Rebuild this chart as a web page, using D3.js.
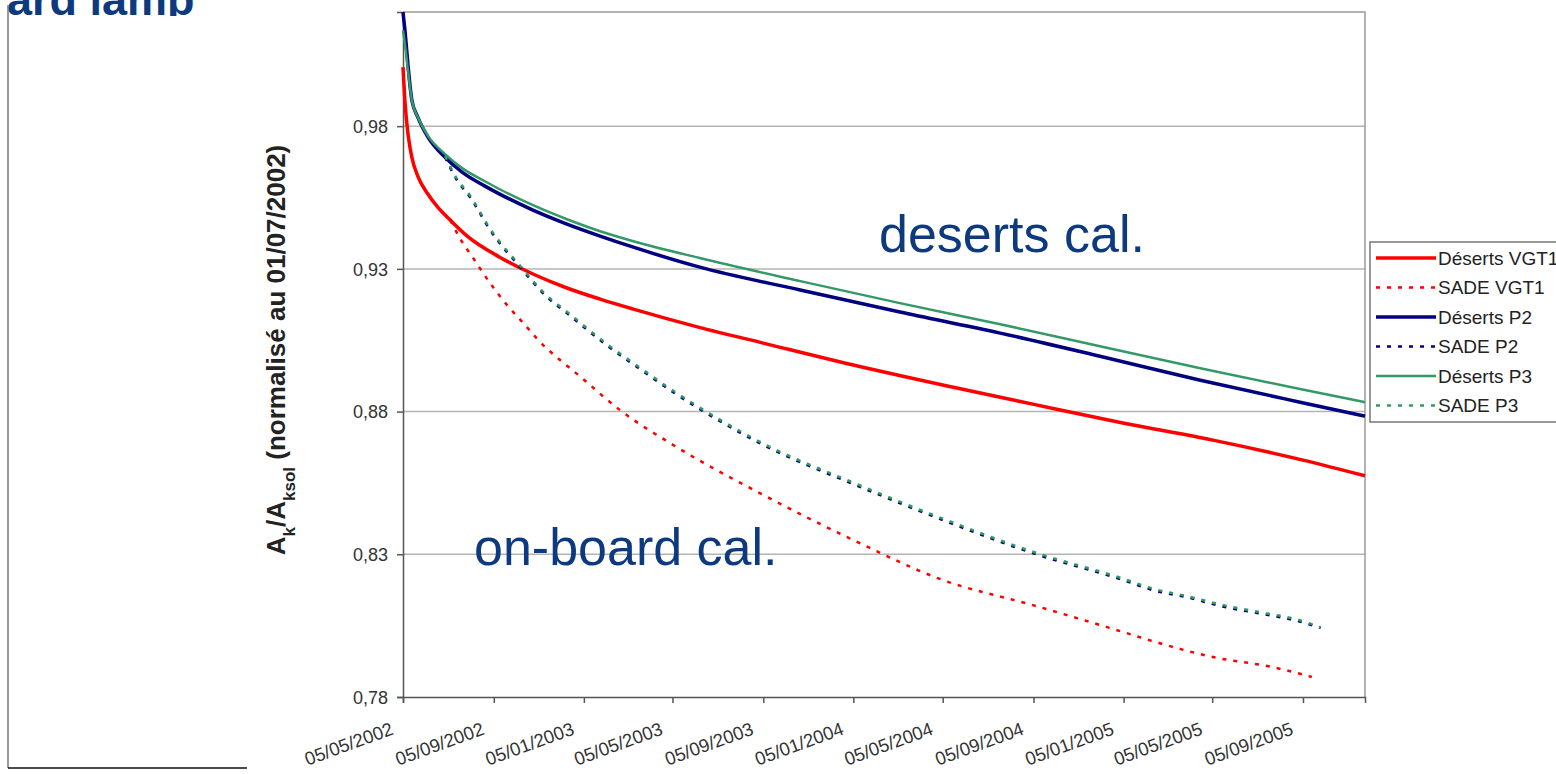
<!DOCTYPE html>
<html>
<head>
<meta charset="utf-8">
<script src="https://d3js.org/d3.v7.min.js"></script>
<style>
  body { margin: 0; background: #fff; }
  text { font-family: Arial, "Liberation Sans", sans-serif; }
</style>
</head>
<body>
<script>
// legend order
const seriesNames = ["Déserts VGT1", "SADE VGT1", "Déserts P2", "SADE P2", "Déserts P3", "SADE P3"];

const tickDates = ["2002-05-05", "2002-09-05", "2003-01-05", "2003-05-05", "2003-09-05", "2004-01-05",
                   "2004-05-05", "2004-09-05", "2005-01-05", "2005-05-05", "2005-09-05"];
const yTicks = [0.78, 0.83, 0.88, 0.93, 0.98];

// Déserts VGT1
const vgt1DesertDates = ["2002-05-05","2002-05-08","2002-05-12","2002-05-17","2002-05-25","2002-06-07","2002-06-21",
  "2002-07-08","2002-07-31","2002-09-13","2002-10-28","2002-12-13","2003-01-27","2003-03-13","2003-06-09","2003-09-05",
  "2004-01-05","2004-05-05","2004-09-04","2005-01-04","2005-05-06","2005-09-05","2005-11-28"];
const vgt1DesertVals = [1.0007,0.9874,0.9768,0.9691,0.9625,0.9565,0.9516,0.9471,0.9415,0.9341,0.9282,0.9233,
  0.9194,0.9159,0.9096,0.9040,0.8963,0.8893,0.8826,0.8760,0.8700,0.8630,0.8575];

// Déserts P2 / P3
const pDesertDates = ["2002-05-05","2002-05-08","2002-05-12","2002-05-17","2002-05-25","2002-06-08","2002-07-01",
  "2002-07-24","2002-08-24","2002-09-13","2002-10-28","2002-12-13","2003-01-27","2003-03-13","2003-06-11","2003-10-25",
  "2004-03-08","2004-07-22","2004-12-04","2005-04-19","2005-09-01","2005-11-28"];
const p2DesertVals = [1.0199,1.0126,1.0007,0.9891,0.9832,0.9761,0.9691,0.9639,0.9590,0.9562,0.9506,0.9457,
  0.9415,0.9376,0.9306,0.9226,0.9149,0.9075,0.8994,0.8910,0.8833,0.8784];
const p3DesertVals = [1.0136,1.0080,0.9990,0.9890,0.9832,0.9765,0.9702,0.9653,0.9607,0.9579,0.9523,0.9474,
  0.9432,0.9397,0.9338,0.9257,0.9180,0.9106,0.9029,0.8952,0.8879,0.8833];

// SADE VGT1
const vgt1SadeDates = ["2002-07-08","2002-07-21","2002-08-08","2002-08-31","2002-09-23","2002-10-15","2002-11-02",
  "2003-01-04","2003-02-23","2003-05-06","2003-09-05","2004-01-05","2004-05-05","2004-09-04","2005-01-04",
  "2005-02-17","2005-05-06","2005-07-25","2005-08-28","2005-09-17"];
const vgt1SadeVals = [0.9471,0.9408,0.9338,0.9250,0.9173,0.9110,0.9057,0.8914,0.8805,0.8683,0.8508,0.8350,
  0.8210,0.8122,0.8028,0.7993,0.7940,0.7905,0.7884,0.7870];

// SADE P2 / P3
const pSadeDates = ["2002-07-01","2002-07-17","2002-08-04","2002-08-31","2002-09-13","2002-10-06","2002-11-16",
  "2002-12-13","2003-02-05","2003-03-22","2003-05-06","2003-07-06","2003-09-05","2004-01-05","2004-05-05",
  "2004-09-04","2005-01-04","2005-02-13","2005-04-05","2005-05-11","2005-07-20","2005-08-23","2005-09-29"];
const p2SadeVals = [0.9691,0.9611,0.9551,0.9436,0.9390,0.9320,0.9201,0.9145,0.9032,0.8949,0.8868,0.8770,
  0.8683,0.8546,0.8420,0.8304,0.8210,0.8175,0.8147,0.8122,0.8087,0.8070,0.8042];
const p3SadeVals = [0.9695,0.9616,0.9556,0.9441,0.9395,0.9325,0.9206,0.9150,0.9037,0.8954,0.8873,0.8775,
  0.8688,0.8551,0.8425,0.8309,0.8215,0.8180,0.8151,0.8127,0.8092,0.8075,0.8044];

const parse = d3.timeParse("%Y-%m-%d");
const fmt = d3.timeFormat("%d/%m/%Y");

function zip(dates, vals) {
  return dates.map((d, i) => ({ date: parse(d), v: vals[i] }));
}

const series = [
  { name: seriesNames[0], data: zip(vgt1DesertDates, vgt1DesertVals), color: "#ff0000", w: 3.5, dash: null },
  { name: seriesNames[1], data: zip(vgt1SadeDates, vgt1SadeVals), color: "#ff0000", w: 2.5, dash: "4,7" },
  { name: seriesNames[2], data: zip(pDesertDates, p2DesertVals), color: "#000080", w: 3.5, dash: null },
  { name: seriesNames[3], data: zip(pSadeDates, p2SadeVals), color: "#000080", w: 2.5, dash: "4,7" },
  { name: seriesNames[4], data: zip(pDesertDates, p3DesertVals), color: "#339966", w: 2.5, dash: null },
  { name: seriesNames[5], data: zip(pSadeDates, p3SadeVals), color: "#339966", w: 2.5, dash: "4,7" }
];

const W = 1556, H = 774;
const plot = { left: 403, right: 1365, top: 12, bottom: 697 };

const svg = d3.select("body").append("svg")
  .attr("width", W).attr("height", H);

// cut-off slide title
svg.append("clipPath").attr("id", "titleClip")
  .append("rect").attr("x", 0).attr("y", 0).attr("width", 400).attr("height", 16);
svg.append("text")
  .attr("clip-path", "url(#titleClip)")
  .attr("x", 7).attr("y", 15)
  .style("font-size", "45px").style("font-weight", "bold")
  .attr("fill", "#0d3a7e")
  .text("ard lamp");

// left frame
svg.append("line").attr("x1", 8).attr("x2", 8).attr("y1", 5).attr("y2", 768)
  .attr("stroke", "#777").attr("stroke-width", 1.5);
svg.append("line").attr("x1", 8).attr("x2", 247).attr("y1", 768).attr("y2", 768)
  .attr("stroke", "#111").attr("stroke-width", 1.5);

// scales
const x = d3.scaleTime()
  .domain([parse("2002-05-05"), parse("2005-11-28")])
  .range([plot.left, plot.right]);
const y = d3.scaleLinear()
  .domain([0.78, 1.02])
  .range([plot.bottom, plot.top]);

// gridlines
svg.append("g").selectAll("line")
  .data(yTicks.slice(1))
  .join("line")
  .attr("x1", plot.left).attr("x2", plot.right)
  .attr("y1", d => y(d)).attr("y2", d => y(d))
  .attr("stroke", "#b4b4b4").attr("stroke-width", 1.5);

// plot frame (top + right)
svg.append("path")
  .attr("d", `M${plot.left},${plot.top}H${plot.right}V${plot.bottom}`)
  .attr("fill", "none").attr("stroke", "#9a9a9a").attr("stroke-width", 1.5);

// y axis
const yAxis = d3.axisLeft(y).tickValues(yTicks).tickSize(6).tickFormat(d => d3.format(".2f")(d).replace(".", ","));
const gy = svg.append("g").attr("transform", `translate(${plot.left},0)`).call(yAxis);
gy.select(".domain").attr("stroke", "#555").attr("stroke-width", 1.5);
gy.selectAll(".tick line").attr("stroke", "#555").attr("stroke-width", 1.5);
gy.selectAll(".tick text").attr("x", -15).attr("dy", "0.35em")
  .style("font-size", "18px").attr("fill", "#333");

// x axis
const xAxis = d3.axisBottom(x).tickValues(tickDates.map(parse)).tickSize(6).tickFormat(fmt);
const gx = svg.append("g").attr("transform", `translate(0,${plot.bottom})`).call(xAxis);
gx.select(".domain").attr("stroke", "#555").attr("stroke-width", 1.5);
gx.selectAll(".tick line").attr("stroke", "#555").attr("stroke-width", 1.5);
gx.selectAll(".tick text")
  .attr("y", 0).attr("dy", 0)
  .attr("text-anchor", "end")
  .attr("transform", "translate(-9,37) rotate(-20)")
  .style("font-size", "18.5px").attr("fill", "#333");

// y axis title
const yt = svg.append("text")
  .attr("transform", "translate(285,350) rotate(-90)")
  .attr("text-anchor", "middle")
  .style("font-size", "26px").style("font-weight", "bold")
  .attr("fill", "#222");
yt.append("tspan").text("A");
yt.append("tspan").attr("baseline-shift", "sub").style("font-size", "17px").text("k");
yt.append("tspan").text("/A");
yt.append("tspan").attr("baseline-shift", "sub").style("font-size", "17px").text("ksol");
yt.append("tspan").text(" (normalisé au 01/07/2002)");

// lines
const line = d3.line()
  .x(d => x(d.date))
  .y(d => y(d.v))
  .curve(d3.curveMonotoneX);

svg.append("g").selectAll("path")
  .data(series)
  .join("path")
  .attr("d", d => line(d.data))
  .attr("fill", "none")
  .attr("stroke", d => d.color)
  .attr("stroke-width", d => d.w)
  .attr("stroke-dasharray", d => d.dash);

// annotations
svg.append("text").attr("x", 879).attr("y", 252)
  .style("font-size", "52px").attr("fill", "#0d3a7e").text("deserts cal.");
svg.append("text").attr("x", 474).attr("y", 565)
  .style("font-size", "52px").attr("fill", "#0d3a7e").text("on-board cal.");

// legend
const legend = svg.append("g").attr("transform", "translate(1370,242)");
legend.append("rect")
  .attr("width", 200).attr("height", 180)
  .attr("fill", "#fff").attr("stroke", "#777").attr("stroke-width", 1.5);
const rows = legend.selectAll("g.row")
  .data(series)
  .join("g")
  .attr("class", "row")
  .attr("transform", (d, i) => `translate(0,${16 + i * 29.5})`);
rows.append("line")
  .attr("x1", 6).attr("x2", 66)
  .attr("stroke", d => d.color)
  .attr("stroke-width", d => d.w)
  .attr("stroke-dasharray", d => d.dash);
rows.append("text")
  .attr("x", 68).attr("y", 6.5)
  .style("font-size", "19px").attr("fill", "#222")
  .text(d => d.name);
</script>
</body>
</html>
